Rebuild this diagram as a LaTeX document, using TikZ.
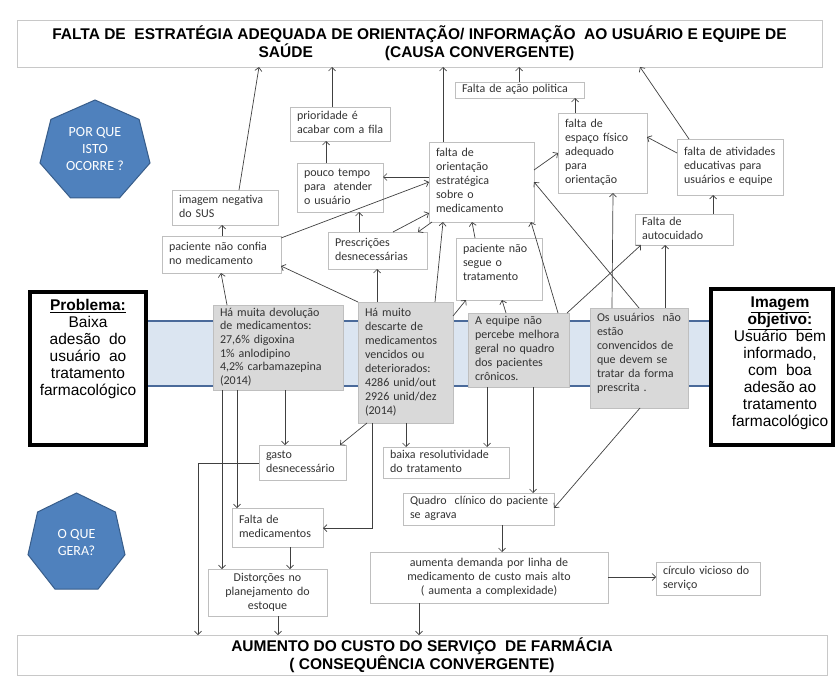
\documentclass[tikz,border=0pt]{standalone}
\usepackage{fontspec}
\setmainfont{Carlito}
\newfontfamily\arialf{Liberation Sans}
\usetikzlibrary{arrows.meta}
\definecolor{boxline}{HTML}{BFBFBF}
\definecolor{grayfill}{HTML}{D9D9D9}
\definecolor{txt}{HTML}{333333}
\definecolor{hepfill}{HTML}{4F81BD}
\definecolor{hepline}{HTML}{385D8A}
\definecolor{bandfill}{HTML}{DBE5F1}
\definecolor{bandline}{HTML}{4A6A9A}
\definecolor{arrcol}{HTML}{404040}
\definecolor{hdrline}{HTML}{C8C8C8}
\newcommand\boxfont{\fontsize{12pt}{14pt}\selectfont}
\newcommand\mkboxgen[8]{%
  \pgfmathsetmacro\bxw{#5-#3}\pgfmathsetmacro\bxh{#6-#4}%
  \pgfmathsetmacro\bxcx{(#3+#5)/2}\pgfmathsetmacro\bxcy{(#4+#6)/2}%
  \pgfmathsetmacro\bxtw{#5-#3-14}%
  \node[wbox,minimum width=\bxw pt,minimum height=\bxh pt,text width=\bxtw pt,#1] (#2) at (\bxcx,\bxcy) {\begin{tabular}{@{}#8@{}}#7\end{tabular}};}
\newcommand\mkbox[7][]{\mkboxgen{#1}{#2}{#3}{#4}{#5}{#6}{#7}{l}}
\newcommand\mkcbox[7][]{\mkboxgen{align=center,#1}{#2}{#3}{#4}{#5}{#6}{#7}{c}}
\begin{document}
\begin{tikzpicture}[x=1pt,y=-1pt,
  wbox/.style={draw=boxline, line width=0.8pt, fill=white, inner xsep=7pt, inner ysep=1.5pt, outer sep=0pt, align=left, font=\boxfont, text=txt},
  gbox/.style={fill=grayfill},
  hdr/.style={draw=hdrline, line width=0.8pt, fill=white, font={\arialf\bfseries\fontsize{15.5pt}{16.5pt}\selectfont}, align=center, outer sep=0pt, inner sep=0pt},
  heptxt/.style={text=white, align=center, font={\fontsize{14pt}{17pt}\selectfont}, inner sep=0pt},
  hepshape/.style={fill=hepfill, draw=hepline, line width=1pt},
  thick box/.style={draw=black, line width=4pt, fill=white, outer sep=0pt, inner sep=0pt},
  bigtxt/.style={align=center, inner sep=0pt, anchor=north, font={\arialf\fontsize{15.5pt}{17pt}\selectfont}},
  arr/.style={draw=arrcol, line width=0.7pt, -{Straight Barb[length=3.5pt,width=7pt]}}
]
\useasboundingbox (0,0) rectangle (835,677);
\fill[white] (0,0) rectangle (835,677);

% header boxes
\node[hdr, minimum width=805pt, minimum height=47pt] (top) at (419.5,43.5)
 {FALTA DE\ \ ESTRATÉGIA ADEQUADA DE ORIENTAÇÃO/ INFORMAÇÃO\ \ AO USUÁRIO E EQUIPE DE\\\hspace*{-6pt}SAÚDE\hspace{72pt}(CAUSA CONVERGENTE)};
\node[hdr, minimum width=810pt, minimum height=40pt] (bot) at (422,655)
 {AUMENTO DO CUSTO DO SERVIÇO\ \ DE FARMÁCIA\\( CONSEQUÊNCIA CONVERGENTE)};

% heptagons
\draw[hepshape] (95,100) -- (139.1,119.4) -- (150,163) -- (119.5,197.9) -- (70.5,197.9) -- (40,163) -- (50.9,119.4) -- cycle;
\node[heptxt] (h1) at (95,149) {POR QUE\\ISTO\\OCORRE ?};
\draw[hepshape] (76.5,493) -- (115.4,512) -- (125,554.7) -- (98.1,589) -- (54.9,589) -- (28,554.7) -- (37.6,512) -- cycle;
\node[heptxt] (h2) at (76.5,542) {O QUE\\GERA?};

% band
\fill[bandfill] (147,321) rectangle (711,386);
\draw[bandline, line width=2pt] (147,321) -- (711,321) (147,386) -- (711,386);

% problem / objective
\node[thick box, minimum width=116pt, minimum height=153pt] (prob) at (88,368.5) {};
\node[bigtxt] (probtxt) at (88,299) {\underline{\textbf{Problema:}}\\Baixa\\adesão\ \ do\\usuário\ \ ao\\tratamento\\farmacológico};
\node[thick box, minimum width=122pt, minimum height=156pt] (obj) at (772,367) {};
\node[bigtxt] (objtxt) at (780,297) {\underline{\textbf{Imagem}}\\\underline{\textbf{objetivo:}}\\Usuário\ \ bem\\informado,\\com\ \ boa\\adesão ao\\tratamento\\farmacológico};

% white boxes
\mkbox{prior}{290}{107}{390}{141}{prioridade é\\acabar com a fila}
\mkbox{pouco}{297}{163}{383}{212}{pouco tempo\\para\ \ atender\\o usuário}
\mkbox{imneg}{172}{190}{278}{225}{imagem negativa\\do SUS}
\mkbox{conf}{162}{236}{281}{273}{paciente não confia\\no medicamento}
\mkbox{presc}{328}{232}{427}{269}{Prescrições\\desnecessárias}
\mkbox{orient}{429}{142}{534}{222}{falta de\\orientação\\estratégica\\sobre o\\medicamento}
\mkbox[inner ysep=0pt]{acao}{455}{82}{584}{98}{Falta de ação politica}
\mkbox{espaco}{558}{113}{647}{193}{falta de\\espaço físico\\adequado\\para\\orientação}
\mkbox{ativ}{677}{139}{783}{195}{falta de atividades\\educativas para\\usuários e equipe}
\mkbox{auto}{635}{214}{733}{245}{Falta de\\autocuidado}
\mkbox{segue}{456}{238}{542}{300}{paciente não\\segue o\\tratamento\\[10pt]}
\mkbox{gasto}{259}{445}{346}{480}{gasto\\desnecessário}
\mkbox{baixa}{383}{447}{509}{478}{baixa resolutividade\\do tratamento}
\mkbox{quadro}{403}{493}{554}{525}{Quadro\ \ clínico do paciente\\se agrava}
\mkcbox{aumenta}{370}{552}{608}{603}{aumenta demanda por linha de\\medicamento de custo mais alto\\( aumenta a complexidade)}
\mkbox{circ}{656}{562}{760}{595}{círculo vicioso do\\serviço}
\mkbox{faltamed}{232}{508}{323}{547}{Falta de\\medicamentos}
\mkcbox{dist}{208}{569}{327}{616}{Distorções no\\planejamento do\\estoque}

% gray boxes
\mkbox[gbox,font={\fontsize{12pt}{13.6pt}\selectfont}]{g1}{213}{305}{343}{390}{Há muita devolução\\de medicamentos:\\27,6\% digoxina\\1\% anlodipino\\4,2\% carbamazepina\\(2014)}
\mkbox[gbox]{g2}{358}{302}{453}{423}{Há muito\\descarte de\\medicamentos\\vencidos ou\\deteriorados:\\4286 unid/out\\2926 unid/dez\\(2014)}
\mkbox[gbox]{g3}{468}{313}{569}{387}{A equipe não\\percebe melhora\\geral no quadro\\dos pacientes\\crônicos.}
\mkbox[gbox]{g4}{590}{308}{688}{408}{Os usuários\ \ não\\estão\\convencidos de\\que devem se\\tratar da forma\\prescrita .\\[8pt]}

% arrows to top
\draw[arr] ([xshift=67pt]imneg.north west) -- ([xshift=242pt]top.south west);
\draw[arr] ([xshift=42pt]prior.north west) -- ([xshift=315pt]top.south west);
\draw[arr] ([xshift=14pt]orient.north west) -- ([xshift=426pt]top.south west);
\draw[arr] ([xshift=64pt]acao.north west) -- ([xshift=502pt]top.south west);
\draw[arr] ([xshift=12pt]ativ.north west) -- ([xshift=623pt]top.south west);
% upper cluster
\draw[arr] ([xshift=17pt]espaco.north west) -- ([xshift=120pt]acao.south west);
\draw[arr] ([yshift=-14pt]ativ.north west) -- ([yshift=-24pt]espaco.north east);
\draw[arr] ([yshift=-28pt]orient.north east) -- ([yshift=-40pt]espaco.north west);
\draw[arr] ([xshift=78pt]auto.north west) -- ([xshift=36pt]ativ.south west);
\draw[arr] ([xshift=29pt]pouco.north west) -- ([xshift=36pt]prior.south west);
\draw[arr] ([yshift=-35pt]orient.north west) -- ([yshift=-14pt]pouco.north east);
\draw[arr] ([yshift=-2pt]conf.north east) -- ([yshift=-40pt]orient.north west);
\draw[arr] ([xshift=31pt]presc.north west) -- ([xshift=62pt]pouco.south west);
\draw[arr] ([xshift=65pt]presc.north west) -- ([yshift=-71pt]orient.north west);
\draw[arr] ([xshift=3pt]orient.south west) -- ([xshift=90pt]presc.north west);
\draw[arr] ([xshift=60pt]conf.north west) -- ([xshift=50pt]imneg.south west);
\draw[arr] (g2.north west) -- ([yshift=-30pt]conf.north east);
\draw[arr] ([xshift=19pt]g2.north west) -- ([xshift=49pt]presc.south west);
\draw[arr] ([xshift=77pt]g2.north west) -- ([xshift=14pt]orient.south west);
\draw[arr] ([xshift=14pt]g1.north west) -- ([xshift=59pt]conf.south west);
\draw[arr] ([xshift=19pt]segue.north west) -- ([xshift=43pt]orient.south west);
\draw[arr] ([yshift=-14pt]g2.north east) -- ([xshift=10pt]segue.south west);
\draw[arr] ([xshift=38pt]g3.north west) -- ([xshift=46pt]segue.south west);
\draw[arr] ([xshift=90pt]g3.north west) -- ([xshift=-3pt]orient.south east);
\draw[arr] ([xshift=99pt]g3.north west) -- ([xshift=6pt]auto.south west);
\draw[arr] ([xshift=22pt]g4.north west) -- ([xshift=55pt]espaco.south west);
\draw[arr] ([xshift=49pt]g4.north west) -- ([yshift=-40pt]orient.north east);
\draw[arr] ([xshift=75pt]g4.north west) -- ([xshift=30pt]auto.south west);
% lower cluster
\draw[arr] ([xshift=72pt]g1.south west) -- ([xshift=26pt]gasto.north west);
\draw[arr] ([xshift=9pt]g2.south west) -- ([xshift=-6pt]gasto.north east);
\draw[arr] ([xshift=48pt]g2.south west) -- ([xshift=23pt]baixa.north west);
\draw[arr] ([xshift=19pt]g3.south west) -- ([xshift=104pt]baixa.north west);
\draw[arr] ([xshift=65pt]g3.south west) -- ([xshift=130pt]quadro.north west);
\draw[arr] ([xshift=50pt]g4.south west) -- ([yshift=-15pt]quadro.north east);
\draw[arr] ([xshift=99pt]quadro.south west) -- ([xshift=132pt]aumenta.north west);
\draw[arr] ([yshift=-25pt]aumenta.north east) -- ([yshift=-15pt]circ.north west);
\draw[arr] ([xshift=49pt]aumenta.south west) -- ([xshift=402pt]bot.north west);
\draw[arr] ([xshift=70pt]dist.south west) -- ([xshift=261pt]bot.north west);
\draw[arr] ([xshift=58pt]faltamed.south west) -- ([xshift=82pt]dist.north west);
\draw[arr] ([xshift=14pt]g2.south west) |- ([yshift=-20pt]faltamed.north east);
\draw[arr] ([xshift=24pt]g1.south west) -- ([xshift=5pt]faltamed.north west);
\draw[arr] ([xshift=9pt]g1.south west) -- ([xshift=14pt]dist.north west);
\draw[arr] ([yshift=-18pt]gasto.north west) -| ([xshift=181pt]bot.north west);
\end{tikzpicture}
\end{document}
